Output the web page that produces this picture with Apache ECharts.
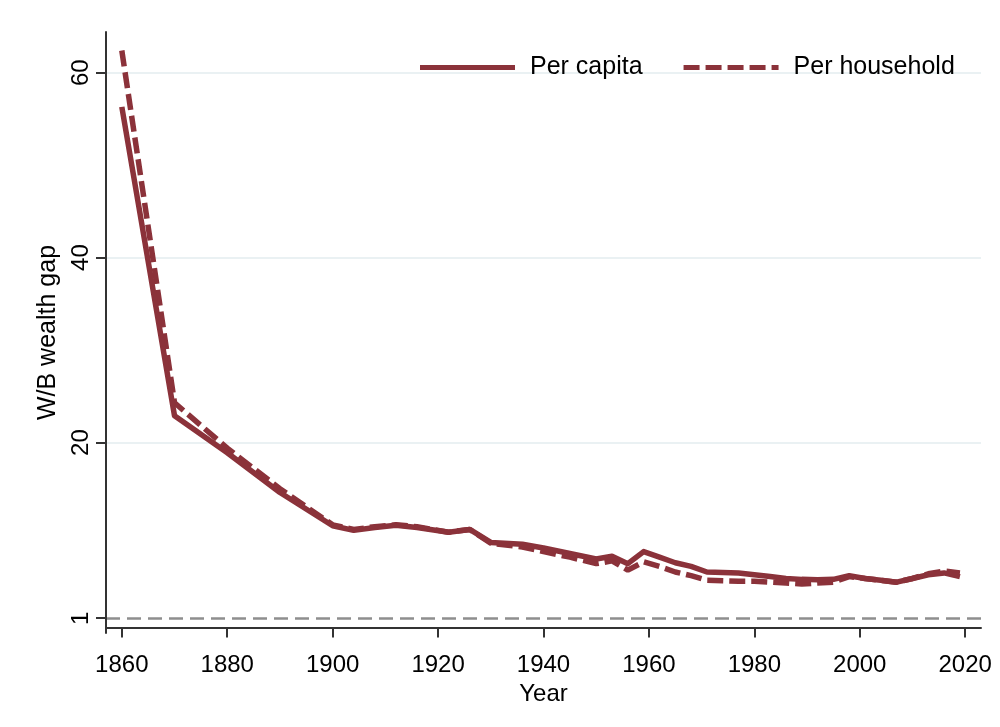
<!DOCTYPE html>
<html>
<head>
<meta charset="utf-8">
<script src="https://cdn.jsdelivr.net/npm/echarts@6/dist/echarts.min.js"></script>
<style>
  html, body { margin: 0; padding: 0; background: #fff; }
  #chart { width: 1000px; height: 727px; }
</style>
</head>
<body>
<div id="chart"></div>
<script>
var years = [1860, 1870, 1880, 1890, 1900, 1904, 1908, 1912, 1916, 1922, 1926, 1930,
  1936, 1940, 1945, 1950, 1953, 1956, 1959, 1962, 1965, 1968, 1971, 1974, 1977,
  1980, 1983, 1986, 1989, 1992, 1995, 1998, 2001, 2004, 2007, 2010, 2013, 2016, 2019];
var perCapita = [56.3, 22.9, 18.9, 14.6, 11.0, 10.5, 10.8, 11.05, 10.8, 10.3, 10.6, 9.2,
  9.0, 8.6, 8.0, 7.4, 7.7, 6.9, 8.2, 7.6, 7.0, 6.6, 6.0, 5.95, 5.9,
  5.7, 5.5, 5.3, 5.2, 5.15, 5.2, 5.6, 5.3, 5.1, 4.9, 5.3, 5.7, 5.9, 5.5];
var perHousehold = [62.4, 24.3, 19.4, 15.0, 11.1, 10.6, 10.9, 11.1, 10.9, 10.3, 10.6, 9.1,
  8.7, 8.2, 7.6, 6.9, 7.2, 6.2, 7.1, 6.6, 6.0, 5.6, 5.1, 5.05, 5.0,
  5.0, 4.9, 4.8, 4.7, 4.8, 4.9, 5.5, 5.3, 5.1, 4.9, 5.3, 5.8, 6.1, 5.9];
var xTicks = [1860, 1880, 1900, 1920, 1940, 1960, 1980, 2000, 2020];
var yTicks = [1, 20, 40, 60];
var gridValues = [20, 40, 60];
var parityValue = 1;

var red = '#8b323a';
var font = 'Liberation Sans, Arial, sans-serif';
var dashIcon = 'path://M0,0h16v5h-16z M22,0h16v5h-16z M44,0h16v5h-16z M66,0h16v5h-16z M88,0h7v5h-7z';

function pairs(xs, ys) {
  return xs.map(function (x, i) { return [x, ys[i]]; });
}

var chart = echarts.init(document.getElementById('chart'));
var option = {
  backgroundColor: '#fff',
  animation: false,
  grid: { left: 106, right: 19, top: 32, bottom: 94 },
  legend: {
    data: [
      { name: 'Per capita', icon: 'rect' },
      { name: 'Per household', icon: dashIcon }
    ],
    z: 20,
    top: 55,
    left: 420,
    padding: 0,
    itemWidth: 95,
    itemHeight: 5,
    itemGap: 41,
    itemStyle: { color: red },
    textStyle: { fontFamily: font, fontSize: 25, color: '#000', padding: [0, 0, 0, 10] }
  },
  xAxis: {
    type: 'value',
    min: 1857,
    max: 2023,
    name: 'Year',
    nameLocation: 'middle',
    nameGap: 41,
    nameTextStyle: { fontFamily: font, fontSize: 24, color: '#000' },
    axisLine: { show: true, lineStyle: { color: '#333', width: 2 } },
    axisTick: { show: true, customValues: xTicks, length: 10, lineStyle: { color: '#333', width: 2 } },
    axisLabel: {
      customValues: xTicks, fontFamily: font, fontSize: 24, color: '#000', margin: 20,
      formatter: function (v) { return String(v); }
    },
    splitLine: { show: false }
  },
  yAxis: {
    type: 'value',
    min: -0.6,
    max: 64.4,
    name: 'W/B wealth gap',
    nameLocation: 'middle',
    nameGap: 40,
    nameTextStyle: { fontFamily: font, fontSize: 25, color: '#000' },
    axisLine: { show: true, lineStyle: { color: '#333', width: 2 } },
    axisTick: { show: true, customValues: yTicks, length: 10, lineStyle: { color: '#333', width: 2 } },
    axisLabel: {
      customValues: yTicks, rotate: 90, fontFamily: font, fontSize: 24, color: '#000', margin: 13,
      formatter: function (v) { return String(v); }
    },
    splitLine: { show: false }
  },
  series: [
    {
      name: 'guides',
      type: 'line',
      data: [],
      z: 0,
      silent: true,
      markLine: {
        silent: true,
        symbol: 'none',
        z: 0,
        label: { show: false },
        data: gridValues.map(function (v) {
          return { yAxis: v, lineStyle: { color: '#eaf1f3', width: 2, type: 'solid' } };
        }).concat([
          { yAxis: parityValue, lineStyle: { color: '#8e8e8e', width: 2.5, type: [14, 7] } }
        ])
      }
    },
    {
      name: 'Per capita',
      type: 'line',
      data: pairs(years, perCapita),
      symbol: 'none',
      z: 3,
      lineStyle: { color: red, width: 5.5, type: 'solid', join: 'round' },
      itemStyle: { color: red }
    },
    {
      name: 'Per household',
      type: 'line',
      data: pairs(years, perHousehold),
      symbol: 'none',
      z: 2,
      lineStyle: { color: red, width: 5.5, type: [16, 6] },
      itemStyle: { color: red }
    }
  ]
};
chart.setOption(option);
</script>
</body>
</html>
